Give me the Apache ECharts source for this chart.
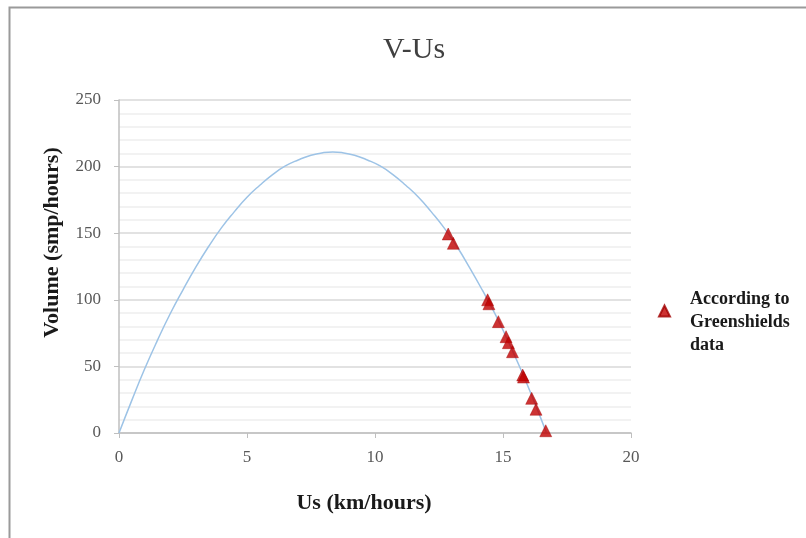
<!DOCTYPE html>
<html>
<head>
<meta charset="utf-8">
<script src="https://cdn.jsdelivr.net/npm/echarts@6/dist/echarts.min.js"></script>
<style>html,body{margin:0;padding:0;background:#fff}#c{width:806px;height:538px}</style>
</head>
<body>
<div id="c"></div>
<script>
var chartTitle = 'V-Us';
var xName = 'Us (km/hours)';
var yName = 'Volume (smp/hours)';
var pointsName = 'According to\nGreenshields\ndata';
var curveUs = [0, 0.5, 1, 1.5, 2, 2.5, 3, 3.5, 4, 4.5, 5, 5.5, 6, 6.5, 7, 7.5, 8, 8.35, 8.7, 9.2, 9.7, 10.2, 10.7, 11.2, 11.7, 12.2, 12.7, 13.2, 13.7, 14.2, 14.7, 15.2, 15.7, 16.2, 16.7];
var curveV  = [0, 24.5, 48, 69.5, 89.5, 107.5, 124.5, 140, 154, 166, 177, 186, 194, 200.5, 205, 208.5, 210.5, 211, 210.5, 208.5, 205, 200.5, 194, 186, 177, 166, 154, 140, 124, 107, 89, 69, 47.5, 24.5, 0];
var obsUs = [12.86, 13.06, 14.4, 14.45, 14.82, 15.12, 15.21, 15.37, 15.77, 15.8, 16.12, 16.29, 16.67];
var obsV  = [149.4, 142.4, 100, 97, 83.6, 72.3, 67.8, 61, 43.5, 42, 26, 17.8, 1.7];

var serif = '"Liberation Serif", "DejaVu Serif", serif';
var chart = echarts.init(document.getElementById('c'));
chart.setOption({
  animation: false,
  backgroundColor: '#fff',
  title: {
    text: chartTitle, left: 409, top: 30, textAlign: 'center',
    textStyle: { fontFamily: serif, fontSize: 30, fontWeight: 'normal', color: '#404040' }
  },
  graphic: [{
    type: 'rect', shape: { x: 9.5, y: 7.5, width: 810, height: 540 },
    style: { fill: 'none', stroke: '#9a9a9a', lineWidth: 2 }, silent: true
  }],
  legend: {
    left: 658, top: 265, orient: 'vertical', padding: 0,
    data: [pointsName],
    itemWidth: 11, itemHeight: 11,
    formatter: function (n) { return ' \n' + n; },
    textStyle: { fontFamily: serif, fontSize: 18, fontWeight: 'bold', color: '#1a1a1a', lineHeight: 23, padding: [0, 0, 0, 15] }
  },
  grid: { left: 119, right: 175, top: 100, bottom: 105 },
  xAxis: {
    type: 'value', min: 0, max: 20, interval: 5,
    name: xName, nameLocation: 'middle', nameGap: 59,
    nameTextStyle: { fontFamily: serif, fontSize: 22, fontWeight: 'bold', color: '#1a1a1a', padding: [0, 22, 0, 0] },
    axisLine: { show: true, lineStyle: { color: '#bfbfbf', width: 1.5 } },
    axisTick: { show: true, length: 5, lineStyle: { color: '#bfbfbf' } },
    axisLabel: { margin: 16, fontFamily: serif, fontSize: 17, color: '#595959' },
    splitLine: { show: false }
  },
  yAxis: {
    type: 'value', min: 0, max: 250, interval: 50,
    name: yName, nameLocation: 'middle', nameGap: 56, nameRotate: 90,
    nameTextStyle: { fontFamily: serif, fontSize: 22, fontWeight: 'bold', color: '#1a1a1a', padding: [0, 0, 0, 48] },
    axisLine: { show: true, lineStyle: { color: '#bfbfbf', width: 1.5 } },
    axisTick: { show: true, length: 5, lineStyle: { color: '#bfbfbf' } },
    axisLabel: { margin: 18, fontFamily: serif, fontSize: 17, color: '#595959' },
    splitLine: { show: true, lineStyle: { color: '#d9d9d9', width: 1.5 } },
    minorTick: { show: false, splitNumber: 5 },
    minorSplitLine: { show: true, lineStyle: { color: '#eeeeee', width: 1.5 } }
  },
  series: [{
    name: 'curve', type: 'line', smooth: true, showSymbol: false,
    data: curveUs.map(function (u, i) { return [u, curveV[i]]; }),
    lineStyle: { color: '#9dc3e6', width: 1.5 }, z: 2
  }, {
    name: pointsName, type: 'scatter', symbol: 'triangle', symbolSize: 12,
    data: obsUs.map(function (u, i) { return [u, obsV[i]]; }),
    itemStyle: { color: '#c00000', borderColor: '#a00000', borderWidth: 0.5 }, z: 3
  }]
});
</script>
</body>
</html>
